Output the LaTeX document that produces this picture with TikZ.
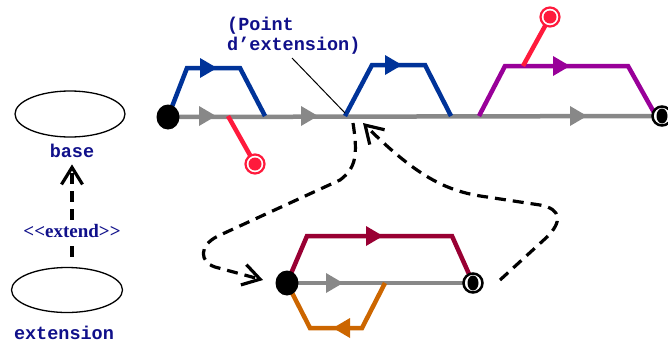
\documentclass[tikz,border=0pt]{standalone}
\usepackage{fontspec}
\setmonofont{Liberation Mono}
\newfontfamily\lserif[Ligatures=TeXOff]{Liberation Serif}
\usetikzlibrary{arrows.meta,shapes.geometric}
\definecolor{gline}{HTML}{888888}
\definecolor{blueL}{HTML}{003399}
\definecolor{purpL}{HTML}{990099}
\definecolor{redL}{HTML}{FF1A3C}
\definecolor{crimL}{HTML}{990033}
\definecolor{orngL}{HTML}{CC6600}
\definecolor{navyT}{HTML}{10108A}
\pgfdeclarelayer{bg}
\pgfsetlayers{bg,main}
\newcommand\myrtri[2]{\fill[#1] (#2) -- ++(-17,-10) -- ++(0,20) -- cycle;}
\newcommand\myltri[2]{\fill[#1] (#2) -- ++(17,-10) -- ++(0,20) -- cycle;}
\begin{document}
\begin{tikzpicture}[x=1pt,y=-1pt,
  lp/.style={line width=4.5pt, line cap=butt, line join=miter},
  startdot/.style={ellipse, fill=black, minimum width=23pt, minimum height=25pt, inner sep=0pt},
  enddot/.style={circle, draw=black, line width=2.5pt, fill=white, minimum size=19pt, inner sep=0pt,
    path picture={\fill[black] (path picture bounding box.center) ellipse (5.5pt and 7.5pt);}},
  redend/.style={circle, draw=redL, line width=2.2pt, fill=white, minimum size=19pt, inner sep=0pt,
    path picture={\fill[redL] (path picture bounding box.center) circle (6.5pt);}},
  lbl/.style={font=\ttfamily\bfseries\fontsize{18.5}{22}\selectfont, text=navyT, inner sep=0pt},
  uc/.style={ellipse, draw=black, line width=1.3pt, inner sep=0pt},
  dep/.style={line width=3.2pt, dash pattern=on 11pt off 7pt},
  barb/.style={-{Straight Barb[length=17pt,width=21pt]}}]
\useasboundingbox (0,0) rectangle (668,343);

% use case ellipses and labels
\node[uc, minimum width=110pt, minimum height=46pt] (baseE) at (70,114) {};
\node[lbl, anchor=base] (baseL) at (72,157) {base};
\node[uc, minimum width=111pt, minimum height=45pt] (extE) at (67,290) {};
\node[lbl, anchor=base] (extN) at (64,339) {extension};
\node[font=\lserif\bfseries\fontsize{19}{22}\selectfont, text=navyT, inner sep=4pt, anchor=base] (extl) at (72,237) {<<extend>>};
\draw[dep, shorten <=10pt] (extl.south |- extE.north) -- (extl.south);
\draw[dep, barb, shorten >=7pt] (extl.north) -- (extl.north |- baseL.south);

% point label
\node[lbl, anchor=base west] (pt1) at (227,30) {(Point};
\node[lbl, anchor=base west] (pt2) at (227,50) {d’extension)};
\coordinate (lead) at (292,58);
\coordinate (xpt) at (345,113);
\draw[line width=1pt] (lead) -- (xpt);

% dots of the top flow
\node[startdot] (s1) at (168,117) {};
\node[enddot] (e1) at (662,116) {};
\node[redend] (r1) at (255,164) {};
\node[redend] (r2) at (550,17) {};
% dots of the lower flow
\node[startdot] (s2) at (287,283) {};
\node[enddot] (e2) at (473,283) {};

\begin{pgfonlayer}{bg}
  % top main flow
  \draw[lp, gline] (s1.center) -- (e1.center);
  \draw[lp, blueL] (s1.center) -- (187,68) -- (240,68) -- (265,116);
  \draw[lp, redL] (228,116) -- (r1.center);
  \draw[lp, blueL] (345,116) -- (372,65) -- (425,65) -- (451,116);
  \draw[lp, purpL] (479,116) -- (505,66) -- (628,66) -- (656,116);
  \draw[lp, redL] (523,66) -- (r2.center);
  \myrtri{gline}{216,116}
  \myrtri{gline}{318,116}
  \myrtri{gline}{587,116}
  \myrtri{blueL}{217,68}
  \myrtri{blueL}{402,65}
  \myrtri{purpL}{570,66}
  % lower flow
  \draw[lp, gline] (s2.center) -- (e2.center);
  \draw[lp, crimL] (s2.center) -- (307,236) -- (452,236) -- (e2.center);
  \draw[lp, orngL] (s2.center) -- (310,328) -- (362,328) -- (385,283);
  \myrtri{gline}{343,283}
  \myrtri{crimL}{383,236}
  \myltri{orngL}{333,328}
\end{pgfonlayer}

% dashed connectors
\coordinate (c1s) at (353,123);
\coordinate (c1t) at (263,280);
\coordinate (c2s) at (500,280);
\coordinate (c2t) at (363,123);
\draw[dep, barb] (c1s) .. controls (358,155) and (356,168) .. (340,180) -- (218,236)
  .. controls (198,246) and (200,262) .. (215,267) -- (c1t);
\draw[dep, barb] (c2s) -- (547,237) .. controls (562,222) and (562,209) .. (540,205) -- (487,197)
  .. controls (450,192) and (420,180) .. (c2t);
\end{tikzpicture}
\end{document}
